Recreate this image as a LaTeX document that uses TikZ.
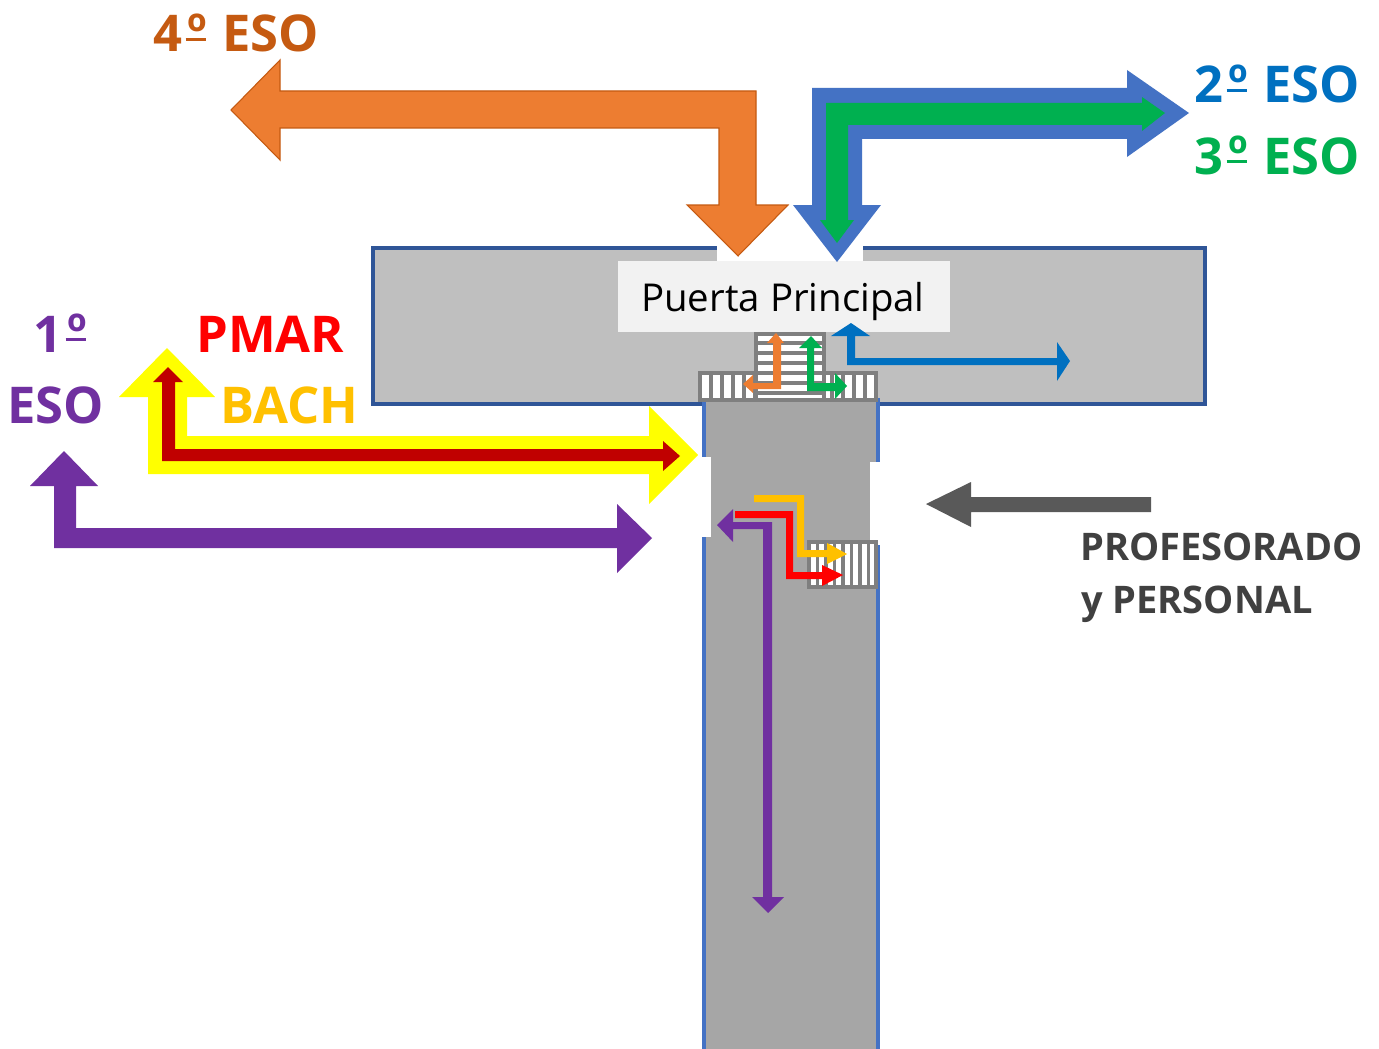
\documentclass[tikz,border=0pt]{standalone}
\usepackage{fontspec}
\setmainfont{Open Sans}
\newcommand{\ordm}{\hbox to 0.53em{\kern0.07em\rlap{\rule[0.21em]{0.4em}{0.07em}}\hss\raisebox{0.02em}{º}\hss}}
\definecolor{cOrange}{HTML}{ED7D31}
\definecolor{cOrangeD}{HTML}{C55A11}
\definecolor{cBlue}{HTML}{4472C4}
\definecolor{cNavy}{HTML}{2F5597}
\definecolor{cSky}{HTML}{0070C0}
\definecolor{cGreen}{HTML}{00B050}
\definecolor{cPurple}{HTML}{7030A0}
\definecolor{cGold}{HTML}{FFC000}
\definecolor{cDark}{HTML}{595959}
\definecolor{cInk}{HTML}{404040}
\definecolor{cWing}{HTML}{BFBFBF}
\definecolor{cHall}{HTML}{A6A6A6}
\definecolor{cStair}{HTML}{7F7F7F}
\definecolor{cYellow}{HTML}{FFFF00}
\definecolor{cDeep}{HTML}{C00000}
\definecolor{cPale}{HTML}{F2F2F2}
\definecolor{cRed}{HTML}{FF0000}
\tikzset{
  lab/.style={anchor=base west,inner sep=0pt,font=\fontsize{38}{38}\selectfont\bfseries},
  labs/.style={anchor=base west,inner sep=0pt,font=\fontsize{28.5}{28.5}\selectfont\bfseries,text=cInk},
  stairline/.style={draw=cStair,line width=2.4pt},
  stairbox/.style={fill=white,draw=cStair,line width=2.4pt},
}
\begin{document}
\begin{tikzpicture}[x=0.75pt,y=-0.75pt]
\useasboundingbox (0,0) rectangle (1379,1049);
% building
\fill[white] (0,0) rectangle (1379,1049);
\filldraw[fill=cWing,draw=cNavy,line width=2.4pt] (373,248) rectangle (1205,404);
\fill[cHall] (704,400) rectangle (878,1049);
\draw[cBlue,line width=3.4pt] (704,398) -- (704,1049);
\draw[cBlue,line width=3.4pt] (878,398) -- (878,1049);
% door gaps
\fill[white] (717,244) rectangle (863,262);
\fill[white] (699,457) rectangle (711,537);
\fill[white] (870,462) rectangle (882,545);
% stairs
\path[stairbox] (700,373) rectangle (876,400);
\foreach \x in {711,722,...,870} \draw[stairline] (\x,373) -- (\x,400);
\path[stairbox] (756,334) rectangle (824,400);
\foreach \y in {343,353,...,399} \draw[stairline] (756,\y) -- (824,\y);
\path[stairbox] (809,542) rectangle (876,587);
\foreach \x in {817.5,826,...,870} \draw[stairline] (\x,542) -- (\x,587);
% label
\node[fill=cPale,minimum width=249pt,minimum height=53.25pt,inner sep=0pt,anchor=north west] (door) at (618,261) {};
\node[anchor=base west,inner sep=0pt,font=\fontsize{28.8}{28.8}\selectfont] (doorlab) at (641,311) {Puerta Principal};
% big arrows
\filldraw[fill=cOrange,draw=cOrangeD,line width=0.8pt,line join=miter] (231,110) -- (280,60) -- (280,91) -- (756,91) -- (756,205) -- (788,205) -- (738,256) -- (687,205) -- (719,205) -- (719,128) -- (280,128) -- (280,160) -- cycle;
\fill[cBlue] (812,88) -- (1127,88) -- (1127,70) -- (1189,113) -- (1127,157) -- (1127,139) -- (862,139) -- (862,205) -- (881,205) -- (837,262) -- (793,205) -- (812,205) -- cycle;
\fill[cGreen] (826,103) -- (1142,103) -- (1142,97) -- (1165,113) -- (1142,131) -- (1142,125) -- (848,125) -- (848,220) -- (854,220) -- (837,243) -- (820,220) -- (826,220) -- cycle;
\fill[cYellow] (119,397) -- (167,348) -- (215,397) -- (187,397) -- (187,436) -- (649,436) -- (649,406) -- (698,455) -- (649,504) -- (649,474) -- (148,474) -- (148,397) -- cycle;
\fill[cDeep] (153,382) -- (168,367) -- (183,382) -- (175,382) -- (175,449) -- (663,449) -- (663,441) -- (680,456) -- (663,471) -- (663,461) -- (162,461) -- (162,382) -- cycle;
\fill[cPurple] (30,486) -- (64,451) -- (98,486) -- (76,486) -- (76,528) -- (617,528) -- (617,504) -- (652,538) -- (617,573) -- (617,548) -- (54,548) -- (54,486) -- cycle;
\fill[cDark] (926,504) -- (971,482) -- (971,497) -- (1151,497) -- (1151,512) -- (971,512) -- (971,527) -- cycle;
% small arrows
\fill[cOrange] (776,333) -- (784,343) -- (781,343) -- (781,389) -- (753,389) -- (753,393) -- (743,384) -- (753,375) -- (753,383) -- (773,383) -- (773,343) -- (767,343) -- cycle;
\fill[cGreen] (811,336) -- (822,348) -- (814,348) -- (814,383) -- (835,383) -- (835,373) -- (847,386) -- (835,399) -- (835,391) -- (807,391) -- (807,348) -- (799,348) -- cycle;
\fill[cSky] (851,323) -- (870,336) -- (855,336) -- (855,358) -- (1057,358) -- (1057,342) -- (1070,361) -- (1057,381) -- (1057,365) -- (847,365) -- (847,336) -- (831,336) -- cycle;
\fill[cPurple] (717,525) -- (733,509) -- (733,522) -- (772,522) -- (772,897) -- (784,897) -- (768,913) -- (752,897) -- (763,897) -- (763,529) -- (733,529) -- (733,542) -- cycle;
\fill[cRed] (735,511) -- (793,511) -- (793,572) -- (822,572) -- (822,565) -- (843,575) -- (822,586) -- (822,579) -- (786,579) -- (786,518) -- (735,518) -- cycle;
\fill[cGold] (754,495) -- (804,495) -- (804,550) -- (827,550) -- (827,543) -- (847,554) -- (827,564) -- (827,557) -- (797,557) -- (797,502) -- (754,502) -- cycle;
% labels
\node[lab,text=cOrangeD] (l4) at (153,52) {4\ordm\ ESO};
\node[lab,text=cSky] (l2) at (1194,103) {2\ordm\ ESO};
\node[lab,text=cGreen] (l3) at (1194,174) {3\ordm\ ESO};
\node[lab,text=cRed] (lp) at (196,352) {PMAR};
\node[lab,text=cGold] (lb) at (220,423) {BACH};
\node[lab,text=cPurple] (l1) at (33,352) {1\ordm};
\node[lab,text=cPurple] (le) at (7,423) {ESO};
\node[labs] (lpr) at (1080,560) {PROFESORADO};
\node[labs] (lpe) at (1081,613) {y PERSONAL};
\end{tikzpicture}
\end{document}
